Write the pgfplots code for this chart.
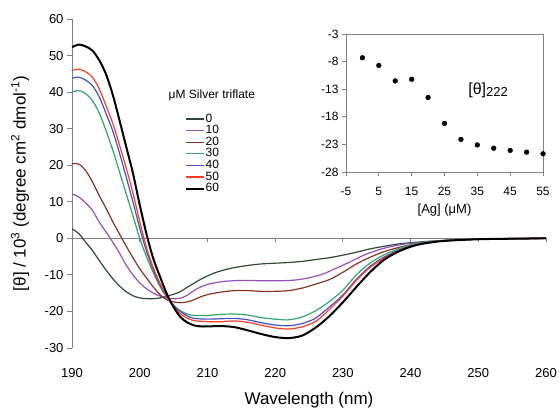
\documentclass[border=0pt]{standalone}
\usepackage{fontspec}
\setmainfont{Liberation Sans}
\usepackage{pgfplots}
\pgfplotsset{compat=1.18}

\definecolor{c0}{RGB}{45,75,50}
\definecolor{c10}{RGB}{150,80,190}
\definecolor{c20}{RGB}{140,50,35}
\definecolor{c30}{RGB}{50,165,110}
\definecolor{c40}{RGB}{70,80,200}
\definecolor{c50}{RGB}{255,60,40}
\definecolor{axgray}{RGB}{128,128,128}

\begin{document}
\begin{tikzpicture}
% zero line of the main panel, with its downward ticks
\begin{axis}[
    scale only axis, width=474pt, height=329pt,
    xmin=190, xmax=260, ymin=-30, ymax=60,
    axis x line=middle, axis y line=none,
    axis line style={-, axgray, line width=0.8pt},
    xtick={200,210,...,260}, xticklabels={},
    tick align=outside, major tick length=4pt,
    xtick style={axgray, line width=0.8pt},
]
\end{axis}

\begin{axis}[
    name=main,
    scale only axis, width=474pt, height=329pt,
    xmin=190, xmax=260, ymin=-30, ymax=60,
    axis y line=left, axis x line=bottom,
    axis line style={-, axgray, line width=0.8pt},
    x axis line style={draw=none},
    xtick={190,200,...,260},
    xticklabels={190,200,210,220,230,240,250,260},
    xtick style={draw=none},
    ytick={-30,-20,...,60},
    yticklabels={-30,-20,-10,0,10,20,30,40,50,60},
    ytick style={axgray, line width=0.8pt},
    tick align=outside, major tick length=5pt,
    tick label style={font=\fontsize{13}{13}\selectfont},
    xticklabel style={anchor=center, yshift=-20pt},
    xlabel={Wavelength (nm)},
    ylabel={[θ] / 10\textsuperscript{3} (degree cm\textsuperscript{2} dmol\textsuperscript{-1})},
    every axis x label/.style={at={(axis description cs:0.5,0)}, yshift=-52pt, anchor=center,
        font=\fontsize{17}{17}\selectfont},
    every axis y label/.style={at={(axis description cs:0,0.5)}, xshift=-52pt, rotate=90, anchor=center,
        font=\fontsize{17}{17}\selectfont},
    legend image code/.code={\draw[#1] (0pt,0pt) -- (18pt,0pt);},
    legend cell align=left,
    legend style={at={(axis description cs:0.238,0.714)}, anchor=north west,
        draw=none, fill=none, inner sep=0pt, row sep=0.3pt,
        font=\fontsize{12}{12}\selectfont,
        nodes={inner sep=0.6pt, text height=8.3pt, text depth=1.8pt},
        /tikz/every even column/.append style={column sep=0pt}},
]
\addplot[c0, line width=1.2pt, smooth] coordinates {
(190,2.6)(191,1.3)(192,-1.0)(193,-3.3)(194,-6.0)(195,-8.6)(196,-11.0)(197,-13.0)(198,-14.6)(199,-15.7)
(200,-16.3)(201,-16.5)(202,-16.5)(203,-16.3)(204,-15.8)(205,-15.3)(206,-14.6)(207,-13.4)(208,-12.3)(209,-11.2)
(210,-10.3)(211,-9.5)(212,-8.9)(213,-8.4)(214,-8.0)(216,-7.4)(218,-7.0)(220,-6.8)(222,-6.6)(224,-6.3)
(226,-5.8)(228,-5.3)(230,-4.6)(232,-3.8)(234,-2.9)(236,-2.2)(238,-1.6)(240,-1.2)(242,-0.9)(245,-0.55)
(250,-0.2)(255,-0.05)(260,0)};
\addplot[c10, line width=1.2pt, smooth] coordinates {
(190,12.2)(191,11.3)(192,9.7)(193,7.7)(194,4.5)(195,1.8)(196,-1.0)(197,-4.0)(198,-7.3)(199,-10.0)
(200,-12.2)(201,-13.8)(202,-15.0)(203,-15.8)(204,-16.3)(205,-16.5)(206,-16.4)(207,-15.6)(208,-14.3)(209,-13.3)
(210,-12.6)(211,-12.2)(212,-11.9)(213,-11.7)(215,-11.5)(218,-11.6)(221,-11.6)(223,-11.4)(225,-10.8)(227,-9.8)
(229,-8.2)(231,-6.5)(233,-4.7)(235,-3.3)(237,-2.3)(239,-1.6)(242,-1.0)(245,-0.6)(250,-0.2)(260,0)};
\addplot[c20, line width=1.2pt, smooth] coordinates {
(190,20.4)(191,20.3)(192,18.6)(193,15.5)(194,11.8)(195,8.3)(196,4.6)(197,1.2)(198,-2.1)(199,-5.3)
(200,-8.3)(201,-10.8)(202,-13.3)(203,-15.4)(204,-16.8)(205,-17.4)(206,-17.6)(207,-17.4)(208,-16.8)(209,-16.0)
(210,-15.4)(211,-15.0)(212,-14.7)(214,-14.3)(216,-14.3)(218,-14.5)(220,-14.5)(222,-14.3)(224,-13.6)(226,-12.5)
(228,-11.3)(230,-9.3)(232,-7.0)(234,-5.2)(236,-3.7)(238,-2.6)(240,-1.8)(242,-1.2)(245,-0.7)(250,-0.25)(260,0)};
\addplot[c30, line width=1.2pt, smooth] coordinates {
(190,40.0)(191,40.4)(192,39.6)(193,37.7)(194,34.4)(195,29.6)(196,24.3)(197,18.3)(198,12.2)(199,6.2)
(200,0.0)(201,-5.0)(202,-9.4)(203,-13.2)(204,-16.1)(205,-18.3)(206,-19.8)(207,-20.7)(208,-21.1)(210,-21.1)
(212,-20.8)(214,-20.7)(216,-21.0)(218,-21.7)(220,-22.1)(222,-22.3)(224,-21.5)(226,-19.8)(228,-17.3)(230,-14.2)
(232,-10.0)(234,-6.8)(236,-4.6)(238,-3.0)(240,-1.8)(242,-1.1)(245,-0.6)(250,-0.2)(260,0)};
\addplot[c40, line width=1.2pt, smooth] coordinates {
(190,43.8)(191,44.1)(192,43.3)(193,41.8)(194,38.8)(195,34.3)(196,29.5)(197,23.4)(198,16.8)(199,10.0)
(200,2.8)(201,-3.5)(202,-8.6)(203,-12.8)(204,-16.0)(205,-18.3)(206,-20.0)(207,-21.2)(208,-21.9)(210,-22.1)
(212,-22.0)(214,-21.9)(216,-22.3)(218,-23.1)(220,-23.7)(222,-23.9)(224,-23.3)(226,-21.8)(228,-18.8)(230,-15.5)
(232,-11.2)(234,-7.7)(236,-5.2)(238,-3.4)(240,-2.1)(242,-1.3)(245,-0.65)(250,-0.25)(260,0)};
\addplot[c50, line width=1.2pt, smooth] coordinates {
(190,45.9)(191,46.3)(192,45.6)(193,44.1)(194,41.0)(195,36.4)(196,31.6)(197,25.6)(198,19.3)(199,12.4)
(200,4.6)(201,-2.5)(202,-8.0)(203,-12.3)(204,-15.8)(205,-18.6)(206,-20.6)(207,-21.8)(208,-22.5)(210,-22.8)
(212,-22.8)(214,-22.6)(216,-23.0)(218,-23.8)(220,-24.5)(222,-24.8)(224,-24.2)(226,-22.7)(228,-19.5)(230,-15.8)
(232,-11.5)(234,-8.0)(236,-5.5)(238,-3.6)(240,-2.2)(242,-1.4)(245,-0.7)(250,-0.25)(260,0)};
\addplot[black, line width=2pt, smooth] coordinates {
(190,52.3)(191,53.0)(192,52.5)(193,51.4)(194,48.8)(195,45.0)(196,39.4)(197,32.4)(198,25.1)(199,17.8)
(200,9.2)(201,1.2)(202,-5.5)(203,-10.5)(204,-15.2)(205,-18.8)(206,-21.5)(207,-23.0)(208,-23.8)(209,-24.1)
(210,-24.1)(212,-24.0)(214,-24.3)(216,-25.2)(218,-26.2)(220,-27.0)(222,-27.3)(224,-26.6)(226,-24.4)(228,-21.3)
(230,-17.5)(232,-13.3)(234,-9.3)(236,-6.0)(238,-3.8)(240,-2.3)(242,-1.4)(245,-0.7)(250,-0.25)(255,-0.1)(260,0)};
\legend{0,10,20,30,40,50,60}
\node[font=\fontsize{12}{12}\selectfont] at (axis description cs:0.295,0.769) {μM Silver triflate};
\end{axis}

% inset
\begin{axis}[
    at={(274pt,176pt)}, anchor=south west,
    scale only axis, width=197pt, height=138pt,
    xmin=-5, xmax=55, ymin=-28, ymax=-3,
    xtick={-5,5,...,55}, xticklabels={-5,5,15,25,35,45,55},
    ytick={-28,-23,...,-3}, yticklabels={-28,-23,-18,-13,-8,-3},
    axis line style={axgray, line width=0.8pt},
    tick style={axgray, line width=0.8pt},
    xtick pos=bottom, ytick pos=left,
    tick align=outside, major tick length=4pt,
    tick label style={font=\fontsize{12}{12}\selectfont},
    xticklabel style={anchor=center, yshift=-15pt},
    xlabel={[Ag] (μM)},
    every axis x label/.style={at={(axis description cs:0.5,0)}, yshift=-38pt, anchor=center,
        font=\fontsize{13}{13}\selectfont},
]
\addplot[only marks, mark=*, mark size=2.4pt, black] coordinates {
(0,-7.3)(5,-8.7)(10,-11.5)(15,-11.2)(20,-14.5)(25,-19.2)(30,-22.1)(35,-23.1)(40,-23.7)(45,-24.1)(50,-24.4)(55,-24.7)};
\node[anchor=west, font=\fontsize{16}{16}\selectfont] at (axis cs:31.2,-13.3) {[θ]{\fontsize{13}{13}\selectfont\raisebox{-2pt}{222}}};
\end{axis}

\pgfresetboundingbox
\path[use as bounding box] (-72pt,-61pt) rectangle (487pt,348pt);
\end{tikzpicture}
\end{document}
